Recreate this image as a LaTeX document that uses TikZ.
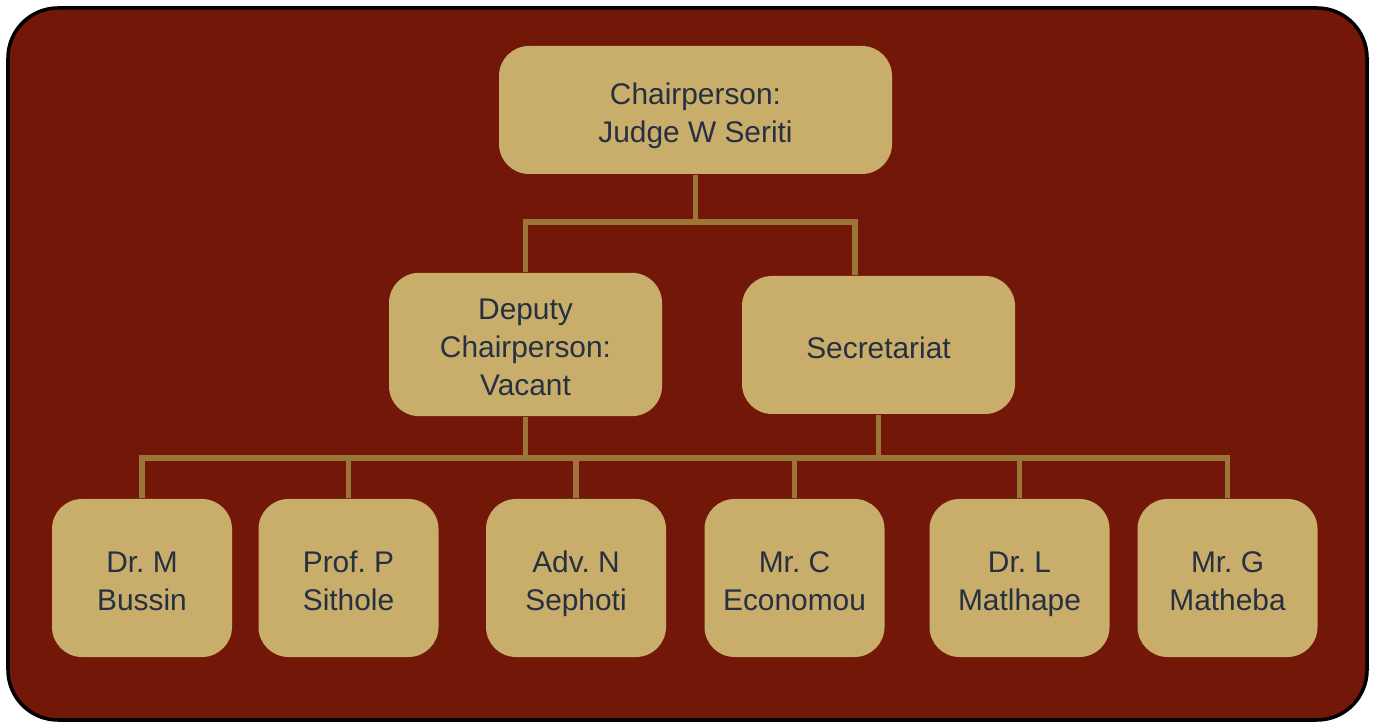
\documentclass[tikz,border=0pt]{standalone}
\usepackage{fontspec}
\setmainfont{Liberation Sans}
\frenchspacing
\definecolor{panelred}{HTML}{731808}
\definecolor{boxgold}{HTML}{C9AD6B}
\definecolor{linkgold}{HTML}{9C7538}
\definecolor{inkblue}{HTML}{263040}
\tikzset{
  member/.style={draw=none, fill=boxgold, rounded corners=0.3cm, align=center,
    text=inkblue, font=\fontsize{8.5}{10.8}\selectfont,
    text height=20.8pt, text depth=2.5pt},
  oneline/.style={text height=10pt},
  threeline/.style={text height=31.6pt},
  link/.style={draw=linkgold, line width=1.6pt, line join=miter}
}
\begin{document}
\begin{tikzpicture}
    \useasboundingbox (0,0) rectangle (13.75,7.22);
    % panel
    \draw[fill=panelred, line width=1pt, rounded corners=0.5cm] (0.08,0.02) rectangle (13.67,7.14);

    % top level
    \node[member, minimum width=3.93cm, minimum height=1.28cm] (chair) at (6.955,6.12) {Chairperson:\\Judge W Seriti};

    % second level
    \node[member, threeline, minimum width=2.73cm, minimum height=1.43cm] (deputy) at (5.255,3.775) {Deputy\\Chairperson:\\Vacant};
    \node[member, oneline, minimum width=2.73cm, minimum height=1.38cm] (secr) at (8.785,3.77) {Secretariat};

    % members
    \node[member, minimum width=1.8cm, minimum height=1.58cm] (m1) at (1.42,1.44) {Dr. M\\Bussin};
    \node[member, minimum width=1.8cm, minimum height=1.58cm] (m2) at (3.485,1.44) {Prof. P\\Sithole};
    \node[member, minimum width=1.8cm, minimum height=1.58cm] (m3) at (5.76,1.44) {Adv. N\\Sephoti};
    \node[member, minimum width=1.8cm, minimum height=1.58cm] (m4) at (7.945,1.44) {Mr. C\\Economou};
    \node[member, minimum width=1.8cm, minimum height=1.58cm] (m5) at (10.195,1.44) {Dr. L\\Matlhape};
    \node[member, minimum width=1.8cm, minimum height=1.58cm] (m6) at (12.275,1.44) {Mr. G\\Matheba};

    % connectors
    \coordinate (topbus) at (6.955,5.00);
    \coordinate (lowbus) at (6.955,2.64);
    \draw[link] (chair.south) -- (topbus);
    \draw[link] (deputy.north) |- (topbus) -| ([xshift=-0.235cm]secr.north);
    \draw[link] (m1.north) |- (lowbus) -| (m6.north);
    \draw[link] (deputy.south) -- (deputy.south |- lowbus);
    \draw[link] (secr.south) -- (secr.south |- lowbus);
    \foreach \n in {m2,m3,m4,m5}
        \draw[link] (\n.north) -- (\n.north |- lowbus);
\end{tikzpicture}
\end{document}
